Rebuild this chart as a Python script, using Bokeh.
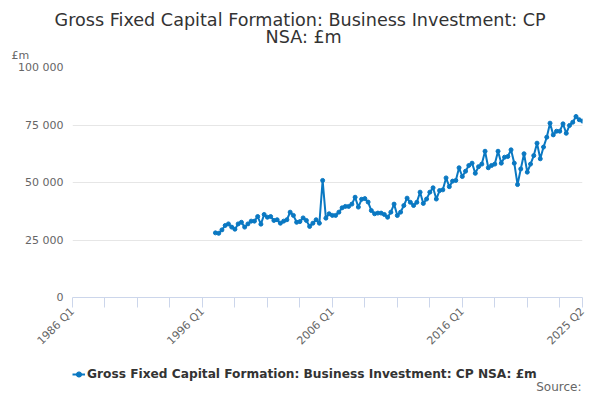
import math
from bokeh.plotting import figure
from bokeh.layouts import column
from bokeh.models import (Range1d, FixedTicker, Legend, LegendItem, ColumnDataSource,
                          Title, Label)
from bokeh.embed import file_html
from bokeh.resources import INLINE

# ---- data ----
title_lines = ["Gross Fixed Capital Formation: Business Investment: CP", "NSA: £m"]
series_name = "Gross Fixed Capital Formation: Business Investment: CP NSA: £m"
unit_label = "£m"
source_text = "Source:"

# category axis: 1986 Q1 .. 2025 Q2
quarters = [f"{y} Q{q}" for y in range(1986, 2026) for q in range(1, 5)][:158]
series_start = "1997 Q1"

values = [
    28100, 27900, 29400, 31300, 32000, 30600, 29700, 32000,   # 1997-1998
    32700, 30600, 32000, 33200, 33200, 35200, 31900, 36100,   # 1999-2000
    34900, 35200, 33500, 33800, 32300, 33200, 33800, 37100,   # 2001-2002
    35700, 32700, 33000, 34600, 33500, 30900, 32300, 33800,   # 2003-2004
    32300, 50900, 34500, 36400, 35700, 35700, 37100, 39000,   # 2005-2006
    39600, 39600, 40600, 43600, 39300, 42700, 43000, 41500,   # 2007-2008
    37800, 36400, 36700, 36700, 36100, 34900, 37100, 40600,   # 2009-2010
    35650, 37100, 40000, 43200, 41400, 40000, 41400, 45800,   # 2011-2012
    40900, 42800, 45800, 47700, 42800, 46500, 46800, 52000,   # 2013-2014
    48200, 50600, 50900, 56400, 52600, 54900, 57400, 58400,   # 2015-2016
    54000, 56900, 58000, 63600, 56400, 57400, 58000, 63600,   # 2017-2018
    58400, 61000, 61300, 64200, 58400, 49100, 55900, 62500,   # 2019-2020
    54500, 58000, 61700, 67100, 60300, 65400, 69700, 75800,   # 2021-2022
    70700, 72300, 72300, 75500, 71400, 74800, 76200, 78700,   # 2023-2024
    77300, 76700,                                             # 2025
]

x_tick_labels = ["1986 Q1", "1996 Q1", "2006 Q1", "2016 Q1", "2025 Q2"]
y_ticks = [0, 25000, 50000, 75000, 100000]
y_tick_labels = ["0", "25 000", "50 000", "75 000", "100 000"]

# ---- build ----
start = quarters.index(series_start)
xs = list(range(start, start + len(values)))
src = ColumnDataSource(data=dict(x=xs, y=values, q=[quarters[i] for i in xs]))

FONT = "DejaVu Sans"
BLUE = "#0a78c2"
W = 592
H1 = 355
LEFT, RIGHT = 72, 10

p = figure(width=W, height=H1, output_backend="svg", toolbar_location=None,
           x_range=Range1d(0, len(quarters) - 1), y_range=Range1d(0, 100000),
           min_border_left=LEFT, min_border_right=RIGHT, min_border_top=67,
           min_border_bottom=58, title=None)
p.outline_line_color = None
p.background_fill_color = "white"
p.border_fill_color = "white"

r_line = p.line("x", "y", source=src, line_color=BLUE, line_width=2)
r_pts = p.scatter("x", "y", source=src, size=4, marker="circle",
                  fill_color=BLUE, line_color=BLUE)

# x axis
last = len(quarters) - 1
xticks = list(range(0, last, 10)) + [last]
p.xaxis.ticker = FixedTicker(ticks=xticks)
overrides = {t: "" for t in xticks}
for lab in x_tick_labels:
    overrides[quarters.index(lab)] = lab
p.xaxis.major_label_overrides = overrides
p.xaxis.major_label_orientation = math.pi / 4
p.xaxis.axis_line_color = "#ccd6eb"
p.xaxis.major_tick_line_color = "#ccd6eb"
p.xaxis.major_tick_out = 10
p.xaxis.major_tick_in = 0
p.xaxis.minor_tick_line_color = None
p.xaxis.major_label_text_color = "#666666"
p.xaxis.major_label_text_font = FONT
p.xaxis.major_label_text_font_size = "11px"
p.xaxis.major_label_standoff = 2

# y axis
p.yaxis.ticker = FixedTicker(ticks=y_ticks)
p.yaxis.major_label_overrides = {t: l for t, l in zip(y_ticks, y_tick_labels)}
p.yaxis.axis_line_color = None
p.yaxis.major_tick_line_color = None
p.yaxis.minor_tick_line_color = None
p.yaxis.major_tick_out = 0
p.yaxis.major_tick_in = 0
p.yaxis.major_label_standoff = 9
p.yaxis.major_label_text_color = "#666666"
p.yaxis.major_label_text_font = FONT
p.yaxis.major_label_text_font_size = "11px"

p.xgrid.grid_line_color = None
p.ygrid.grid_line_color = "#e6e6e6"
p.ygrid.grid_line_width = 1

# titles above
p.add_layout(Title(text=unit_label, align="left", offset=-61, text_font=FONT,
                   text_font_size="11px", text_font_style="normal",
                   text_color="#666666", standoff=11), "above")
p.add_layout(Title(text=title_lines[1], align="left", offset=193, text_font=FONT,
                   text_font_size="17.6px", text_font_style="normal",
                   text_color="#333333", standoff=-11), "above")
p.add_layout(Title(text=title_lines[0], align="left", offset=-18, text_font=FONT,
                   text_font_size="17.6px", text_font_style="normal",
                   text_color="#333333", standoff=2), "above")

# footer strip: legend + source (its frame is aligned with the main frame by the column)
H2 = 392 - H1
FW = W - LEFT - RIGHT
p2 = figure(width=W, height=H2, output_backend="svg", toolbar_location=None,
            x_range=Range1d(0, FW), y_range=Range1d(0, H2),
            x_axis_location=None, y_axis_location=None,
            min_border_left=LEFT, min_border_right=RIGHT, min_border_top=0,
            min_border_bottom=0, title=None)
p2.outline_line_color = None
p2.grid.grid_line_color = None
p2.background_fill_color = "white"
p2.border_fill_color = "white"

# same series drawn in the footer's (out-of-view) ranges: only used for the legend swatch
k_line = p2.line("x", "y", source=src, line_color=BLUE, line_width=2)
k_pts = p2.scatter("x", "y", source=src, size=4, marker="circle",
                   fill_color=BLUE, line_color=BLUE)
legend = Legend(items=[LegendItem(label=series_name, renderers=[k_line, k_pts])],
                location=(0, 10), orientation="horizontal",
                padding=0, margin=0, spacing=0, border_line_color=None,
                background_fill_alpha=0, glyph_width=13, glyph_height=16,
                label_height=16, label_standoff=2,
                label_text_font=FONT, label_text_font_size="12.2px",
                label_text_font_style="bold", label_text_color="#333333")
p2.add_layout(legend)
p2.add_layout(Label(x=FW - 1, y=6, text=source_text, text_align="right",
                    text_baseline="middle", text_font=FONT, text_font_size="12px",
                    text_color="#666666"))

layout = column(p, p2, spacing=0)
open("out.html", "w").write(file_html(layout, INLINE))
